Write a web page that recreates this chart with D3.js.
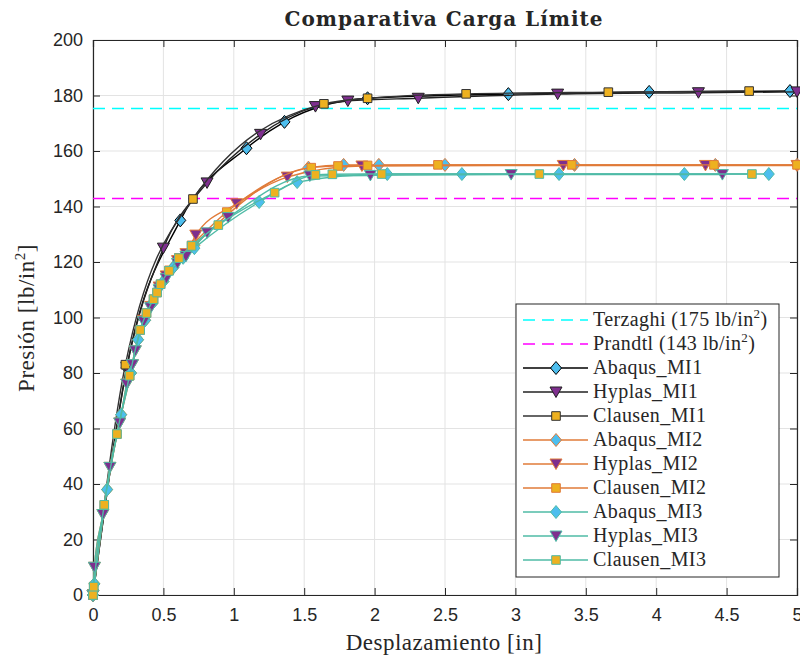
<!DOCTYPE html>
<html>
<head>
<meta charset="utf-8">
<script src="https://cdn.jsdelivr.net/npm/d3@7"></script>
<style>
  body { margin: 0; background: #fff; }
  text { fill: #262626; }
</style>
</head>
<body>
<script>
// ---- datos ----
var xTicks = [0, 0.5, 1, 1.5, 2, 2.5, 3, 3.5, 4, 4.5, 5];
var yTicks = [0, 20, 40, 60, 80, 100, 120, 140, 160, 180, 200];

var terzaghi = 175, prandtl = 143;

var abaqusMI1_x = [0, 0.24, 0.62, 1.09, 1.36, 1.95, 2.95, 3.95, 4.95];
var abaqusMI1_y = [0, 82, 135, 161, 170.5, 179, 180.5, 181.3, 181.6];
var hyplasMI1_x = [0, 0.24, 0.5, 0.81, 1.19, 1.58, 1.81, 2.31, 3.3, 4.3, 5.0];
var hyplasMI1_y = [0, 82, 125, 148.5, 166, 176, 178, 179, 180.5, 181, 181.3];
var clausenMI1_x = [0, 0.23, 0.71, 1.64, 1.95, 2.65, 3.66, 4.66];
var clausenMI1_y = [0, 83, 142.7, 177, 179, 180.6, 181.2, 181.6];

var abaqusMI2_x = [0, 0.01, 0.1, 0.2, 0.27, 0.32, 0.37, 0.42, 0.5, 0.57, 0.64, 0.72, 1.53, 1.78, 2.03, 2.5, 3.42, 4.42, 5.0];
var abaqusMI2_y = [0, 4, 38, 65, 80, 92, 99, 105, 113, 118, 122, 126, 154, 155, 155, 155, 155, 155, 155];
var hyplasMI2_x = [0, 0.01, 0.07, 0.12, 0.19, 0.24, 0.28, 0.3, 0.36, 0.41, 0.47, 0.52, 0.6, 0.66, 0.73, 1.02, 1.38, 1.91, 3.34, 4.35, 5.0];
var hyplasMI2_y = [0, 10, 29, 46, 62, 76, 83, 88, 99, 104, 111, 115, 120.5, 123, 129.7, 141, 150.6, 154.6, 154.8, 154.8, 154.8];
var clausenMI2_x = [0, 0.005, 0.08, 0.17, 0.26, 0.335, 0.38, 0.43, 0.455, 0.48, 0.54, 0.61, 0.7, 0.95, 1.55, 1.74, 1.95, 2.45, 3.4, 4.41, 5.0];
var clausenMI2_y = [0, 3, 32.5, 58, 79, 95.5, 101.6, 106.6, 109, 112, 117, 121.5, 126, 138, 154, 154.6, 154.8, 155, 155, 155, 155];

var abaqusMI3_x = [0, 0.01, 0.1, 0.2, 0.27, 0.32, 0.37, 0.42, 0.5, 0.57, 0.64, 0.72, 1.18, 1.45, 2.09, 2.62, 3.31, 4.2, 4.8];
var abaqusMI3_y = [0, 4, 38, 65, 80, 92, 99, 105, 113, 118, 121.5, 125, 141.6, 148.8, 151.7, 151.7, 151.7, 151.7, 151.7];
var hyplasMI3_x = [0, 0.01, 0.07, 0.12, 0.19, 0.24, 0.28, 0.3, 0.36, 0.41, 0.47, 0.52, 0.6, 0.66, 0.81, 0.96, 1.54, 1.97, 2.97, 4.47];
var hyplasMI3_y = [0, 10, 29, 46, 62, 76, 83, 88, 98.5, 103.5, 110, 114, 119.5, 122, 130.5, 136, 151, 151.2, 151.5, 151.5];
var clausenMI3_x = [0, 0.005, 0.08, 0.17, 0.26, 0.335, 0.38, 0.43, 0.455, 0.48, 0.54, 0.61, 0.7, 0.89, 1.29, 1.58, 1.7, 2.05, 3.17, 4.68];
var clausenMI3_y = [0, 3, 32.5, 58, 79, 95.5, 101.6, 106.6, 109, 112, 116.8, 121.4, 125.8, 133.3, 145, 151.4, 151.6, 151.7, 151.7, 151.7];

// colores
var cBlack = "#000000", cOrange = "#E07B39", cTeal = "#4FBBA6";
var fDiamond = "#4DBEEE", fTri = "#7E2F8E", fSq = "#EDB120";

var series = [
  {name: "Abaqus_MI1", x: abaqusMI1_x, y: abaqusMI1_y, col: cBlack, mk: "d"},
  {name: "Hyplas_MI1", x: hyplasMI1_x, y: hyplasMI1_y, col: "#222", mk: "v"},
  {name: "Clausen_MI1", x: clausenMI1_x, y: clausenMI1_y, col: "#333", mk: "s"},
  {name: "Abaqus_MI2", x: abaqusMI2_x, y: abaqusMI2_y, col: cOrange, mk: "d"},
  {name: "Hyplas_MI2", x: hyplasMI2_x, y: hyplasMI2_y, col: cOrange, mk: "v"},
  {name: "Clausen_MI2", x: clausenMI2_x, y: clausenMI2_y, col: cOrange, mk: "s"},
  {name: "Abaqus_MI3", x: abaqusMI3_x, y: abaqusMI3_y, col: cTeal, mk: "d"},
  {name: "Hyplas_MI3", x: hyplasMI3_x, y: hyplasMI3_y, col: cTeal, mk: "v"},
  {name: "Clausen_MI3", x: clausenMI3_x, y: clausenMI3_y, col: cTeal, mk: "s"}
];

var margin = {top: 40, left: 93},
    w = 704,
    h = 555;

var serif = "Liberation Serif, serif";

var svg = d3.select("body").append("svg")
    .attr("width", 800)
    .attr("height", 658);

var xScale = d3.scaleLinear().domain([0, 5]).range([0, w]);
var yScale = d3.scaleLinear().domain([0, 200]).range([h, 0]);

var g = svg.append("g")
    .attr("transform", "translate(" + margin.left + "," + margin.top + ")");

// grid
g.selectAll(".gx").data(xTicks).enter().append("line")
  .attr("x1", function(d) { return xScale(d); })
  .attr("x2", function(d) { return xScale(d); })
  .attr("y1", 0).attr("y2", h)
  .attr("stroke", "#e3e3e3").attr("stroke-width", 1);
g.selectAll(".gy").data(yTicks).enter().append("line")
  .attr("y1", function(d) { return yScale(d); })
  .attr("y2", function(d) { return yScale(d); })
  .attr("x1", 0).attr("x2", w)
  .attr("stroke", "#e3e3e3").attr("stroke-width", 1);

// axes
g.append("g").attr("transform", "translate(0," + h + ")")
  .call(d3.axisBottom(xScale).tickValues(xTicks).tickSize(-7).tickPadding(13).tickFormat(d3.format("")));
g.append("g")
  .call(d3.axisLeft(yScale).tickValues(yTicks).tickSize(-7).tickPadding(10));
g.append("g").call(d3.axisTop(xScale).tickValues(xTicks).tickSize(-7).tickFormat(""));
g.append("g").attr("transform", "translate(" + w + ",0)")
  .call(d3.axisRight(yScale).tickValues(yTicks).tickSize(-7).tickFormat(""));

g.selectAll(".domain").attr("stroke", "#262626").attr("stroke-width", 1.2);
g.selectAll(".tick line").attr("stroke", "#262626");
g.selectAll(".tick text")
  .attr("font-family", "Liberation Sans, Arial, sans-serif")
  .attr("font-size", "18px")
  .attr("fill", "#262626");

// reference lines
g.append("line")
  .attr("x1", 0).attr("x2", w)
  .attr("y1", Math.round(yScale(terzaghi)) - 0.5).attr("y2", Math.round(yScale(terzaghi)) - 0.5)
  .attr("stroke", "#00FFFF").attr("stroke-width", 1.3).attr("stroke-dasharray", "12,7");
g.append("line")
  .attr("x1", 0).attr("x2", w)
  .attr("y1", Math.round(yScale(prandtl)) + 0.5).attr("y2", Math.round(yScale(prandtl)) + 0.5)
  .attr("stroke", "#FF00FF").attr("stroke-width", 1.3).attr("stroke-dasharray", "12,7");

function markerPath(mk) {
  if (mk == "d") return "M0,-6.5L5.5,0L0,6.5L-5.5,0Z";
  if (mk == "v") return "M-6,-5L6,-5L0,5.5Z";
  return "M-4.3,-4.3L4.3,-4.3L4.3,4.3L-4.3,4.3Z";
}
function markerFill(mk) {
  if (mk == "d") return fDiamond;
  if (mk == "v") return fTri;
  return fSq;
}

var line = d3.line()
  .x(function(d) { return xScale(d[0]); })
  .y(function(d) { return yScale(d[1]); })
  .curve(d3.curveMonotoneX);

series.forEach(function(s) {
  var pts = s.x.map(function(v, i) { return [v, s.y[i]]; });
  g.append("path").datum(pts)
    .attr("d", line)
    .attr("fill", "none")
    .attr("stroke", s.col)
    .attr("stroke-width", 1.4);
  g.selectAll(null).data(pts).enter().append("path")
    .attr("d", markerPath(s.mk))
    .attr("transform", function(d) { return "translate(" + xScale(d[0]) + "," + yScale(d[1]) + ")"; })
    .attr("fill", markerFill(s.mk))
    .attr("stroke", s.col)
    .attr("stroke-width", 1);
});

// title and labels
svg.append("text")
  .attr("x", 444).attr("y", 26)
  .attr("text-anchor", "middle")
  .attr("font-family", "DejaVu Serif, serif")
  .attr("font-weight", "bold")
  .attr("font-size", "20px")
  .attr("letter-spacing", "1px")
  .text("Comparativa Carga Límite");

svg.append("text")
  .attr("x", 444).attr("y", 650)
  .attr("text-anchor", "middle")
  .attr("font-family", serif)
  .attr("font-size", "23px")
  .attr("letter-spacing", "0.5px")
  .text("Desplazamiento [in]");

var yl = svg.append("text")
  .attr("transform", "translate(34,318) rotate(-90)")
  .attr("text-anchor", "middle")
  .attr("font-family", serif)
  .attr("font-size", "23px")
  .attr("letter-spacing", "0.5px");
yl.append("tspan").text("Presión [lb/in");
yl.append("tspan").attr("font-size", "15px").attr("dy", -9).text("2");
yl.append("tspan").attr("dy", 9).text("]");

// legend
var leg = svg.append("g");
leg.append("rect")
  .attr("x", 516).attr("y", 304).attr("width", 263).attr("height", 273)
  .attr("fill", "#fff").attr("stroke", "#262626").attr("stroke-width", 1);

var legItems = [
  {name: "Terzaghi (175 lb/in", sup: true, col: "#00FFFF", dash: true},
  {name: "Prandtl (143 lb/in", sup: true, col: "#FF00FF", dash: true}
].concat(series);

legItems.forEach(function(s, i) {
  var yy = 320 + i * 24;
  leg.append("line")
    .attr("x1", 523).attr("x2", 588).attr("y1", yy).attr("y2", yy)
    .attr("stroke", s.col).attr("stroke-width", s.dash ? 1.3 : 1.4)
    .attr("stroke-dasharray", s.dash ? "12,7" : null);
  if (s.mk) {
    leg.append("path")
      .attr("d", markerPath(s.mk))
      .attr("transform", "translate(556," + yy + ")")
      .attr("fill", markerFill(s.mk))
      .attr("stroke", s.col).attr("stroke-width", 1);
  }
  var t = leg.append("text")
    .attr("x", 593).attr("y", yy + 6)
    .attr("font-family", serif)
    .attr("font-size", "20px")
    .attr("letter-spacing", "0.4px");
  t.append("tspan").text(s.name);
  if (s.sup) {
    t.append("tspan").attr("font-size", "13px").attr("dy", -8).text("2");
    t.append("tspan").attr("dy", 8).text(")");
  }
});
</script>
</body>
</html>
